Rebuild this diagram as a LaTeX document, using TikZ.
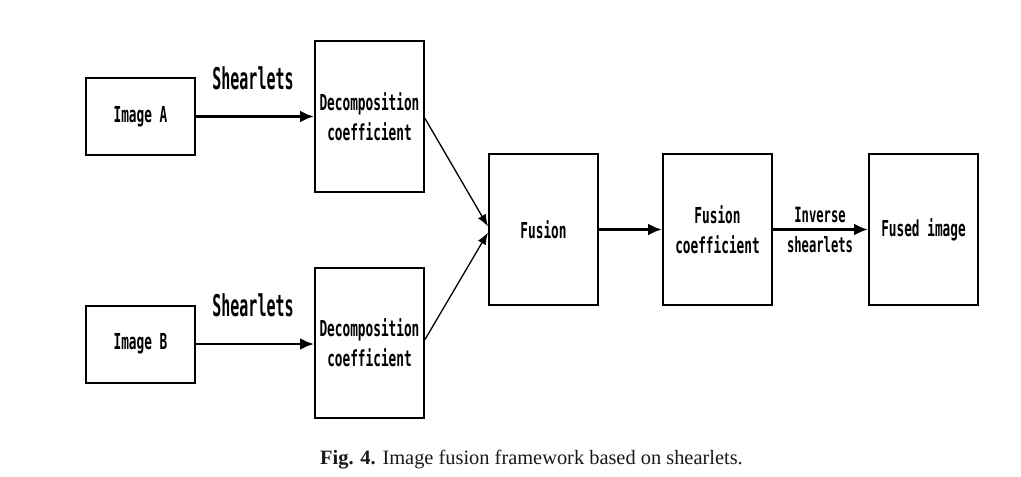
\documentclass[tikz,border=0pt]{standalone}
\usepackage{fontspec}
\usepackage{xcolor}
\usepackage{tikz}
\usetikzlibrary{arrows.meta}
\newfontfamily\boxfont[FakeStretch=0.58]{DejaVu Sans Mono}
\newfontfamily\lblfont[FakeStretch=0.5]{DejaVu Sans Mono}
\newfontfamily\capfont{Liberation Serif}

\begin{document}
\begin{tikzpicture}[x=1pt, y=-1pt,
		blk/.style={draw, line width=2pt, minimum width=109pt, inner sep=0pt, align=center,
			font=\boxfont\bfseries\fontsize{22}{30}\selectfont},
		thick arrow/.style={-{Latex[length=14pt, width=12pt]}, line width=2.8pt},
		thin arrow/.style={-{Latex[length=12pt, width=9pt]}, line width=1.3pt}]
		\useasboundingbox (0, 0) rectangle (1021, 477);
		% input images
		\node[blk, minimum height=77pt] (imgA) at (140.5, 116.5) {Image A};
		\node[blk, minimum height=77pt] (imgB) at (140.5, 344) {Image B};
		% decomposition
		\node[blk, minimum height=151pt] (decA) at (369.5, 116.5) {Decomposition\\coefficient};
		\node[blk, minimum height=150pt] (decB) at (369.5, 342.5) {Decomposition\\coefficient};
		% fusion chain
		\node[blk, minimum height=151pt] (fus) at (543.5, 229.5) {Fusion};
		\node[blk, minimum height=151pt] (fcoef) at (717.5, 229.5) {Fusion\\coefficient};
		\node[blk, minimum height=151pt] (fused) at (923.5, 229.5) {Fused image};
		% connectors
		\draw[thick arrow] (imgA) -- (decA.west |- imgA);
		\draw[thick arrow] (imgB) -- (decB.west |- imgB);
		\draw[thin arrow] ([yshift=-2pt]decA.east) -- ([yshift=3pt]fus.west);
		\draw[thin arrow] ([yshift=3pt]decB.east) -- ([yshift=-3pt]fus.west);
		\draw[thick arrow] (fus) -- (fcoef);
		\draw[thick arrow] (fcoef) -- (fused);
		% labels
		\node[font=\lblfont\bfseries\fontsize{30}{30}\selectfont] (shA) at (253, 78) {Shearlets};
		\node[font=\lblfont\bfseries\fontsize{30}{30}\selectfont] (shB) at (253, 305) {Shearlets};
		\node[align=center, font=\boxfont\bfseries\fontsize{21}{30}\selectfont] (inv) at (820, 230) {Inverse\\shearlets};
		% caption
		\node[text=black!90, font=\capfont\fontsize{20.4}{22}\selectfont] (cap) at (531.5, 460) {\textbf{Fig. 4.} Image fusion framework based on shearlets.};
	\end{tikzpicture}
\end{document}
